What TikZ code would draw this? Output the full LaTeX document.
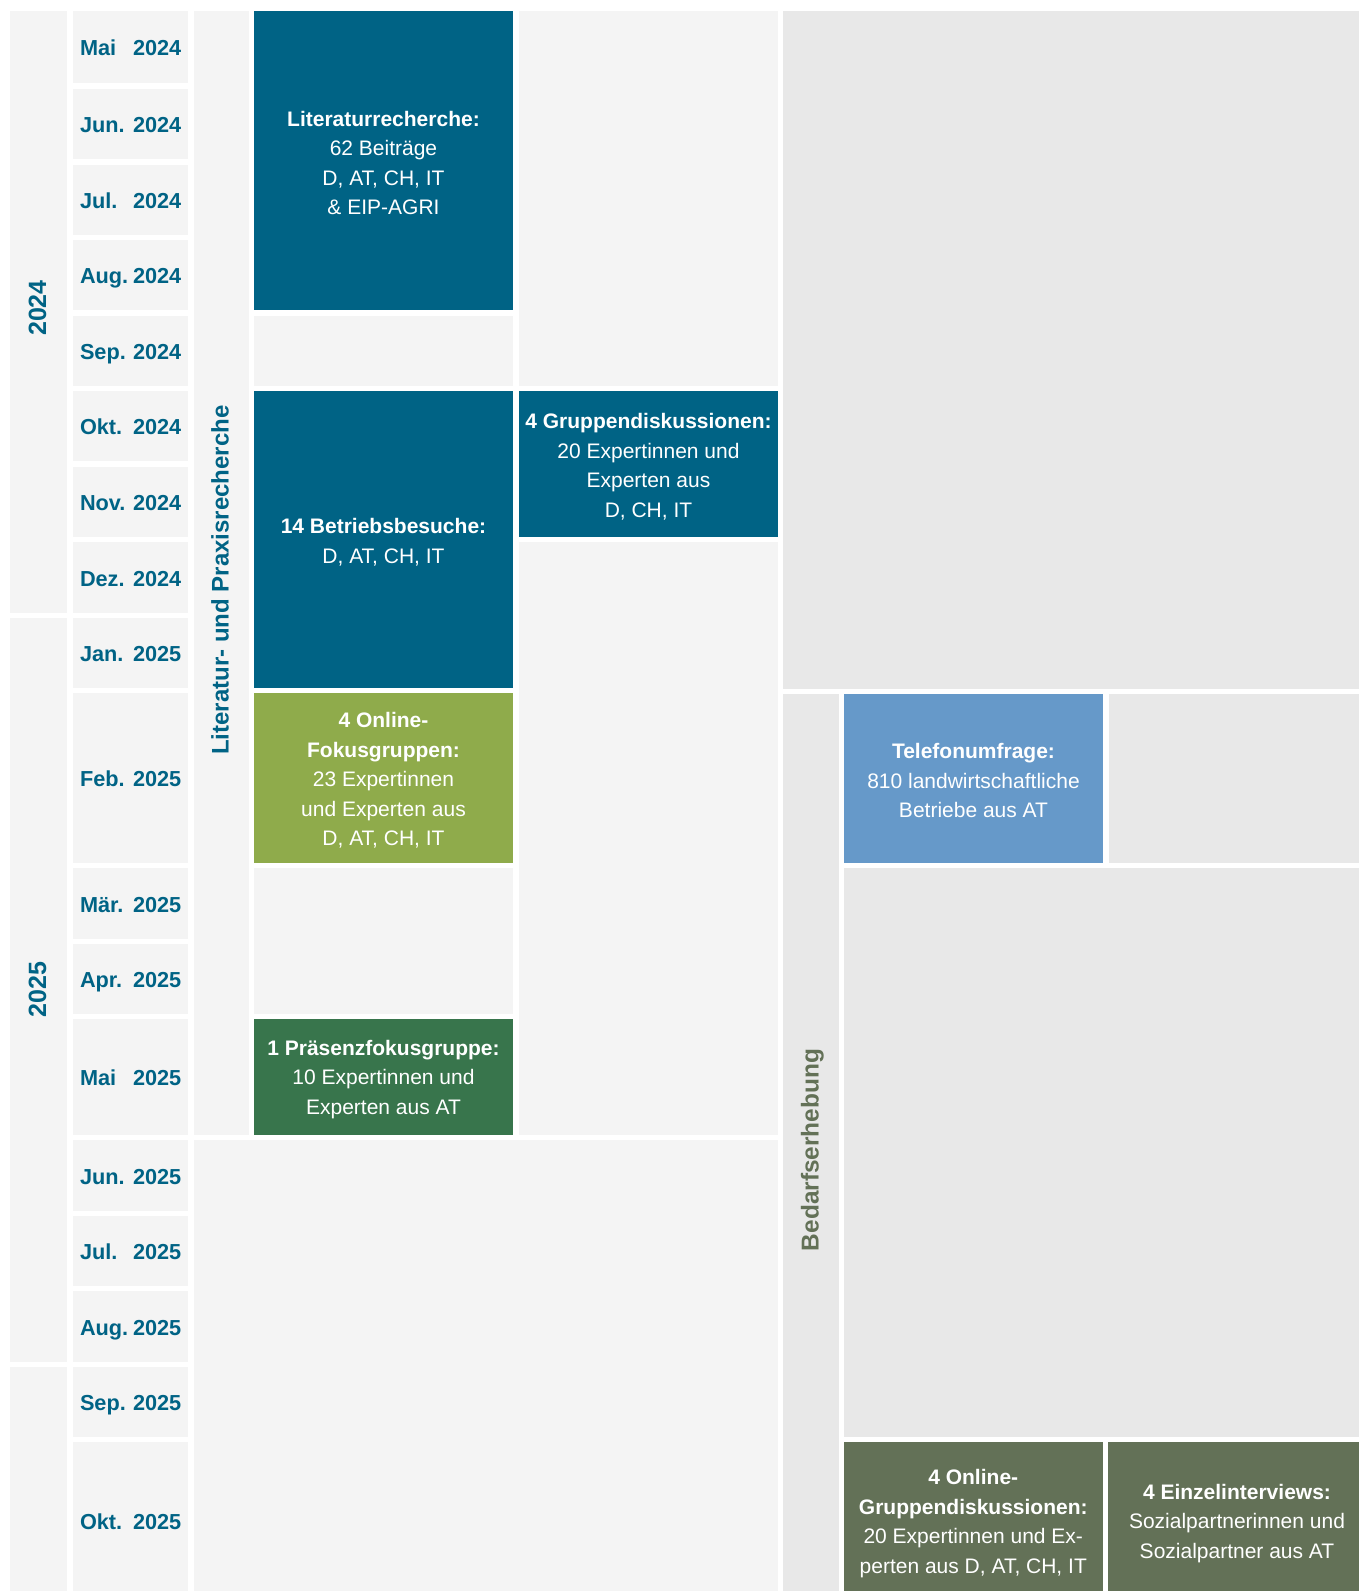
\documentclass[tikz,border=0pt]{standalone}
\usepackage{fontspec}
\setmainfont{Liberation Sans}
\definecolor{lightc}{HTML}{F4F4F4}
\definecolor{greyc}{HTML}{E8E8E8}
\definecolor{dblue}{HTML}{006385}
\definecolor{tblue}{HTML}{6699C9}
\definecolor{lgreen}{HTML}{8FAB4B}
\definecolor{dgreen}{HTML}{38754C}
\definecolor{ggreen}{HTML}{637157}
\tikzset{
  cellbase/.style={anchor=north west, inner sep=0pt, outer sep=0pt},
  lcell/.style={cellbase, fill=lightc},
  gcell/.style={cellbase, fill=greyc},
  bluebox/.style={cellbase, fill=dblue},
  telbox/.style={cellbase, fill=tblue},
  lgbox/.style={cellbase, fill=lgreen},
  dgbox/.style={cellbase, fill=dgreen},
  ggbox/.style={cellbase, fill=ggreen},
  boxtext/.style={inner sep=0pt, align=center, text=white,
    font=\fontsize{21}{29.5}\selectfont},
  mtext/.style={anchor=west, inner sep=0pt, outer sep=0pt, text=dblue,
    font=\fontsize{21.7}{25}\selectfont\bfseries, text height=15.5pt, text depth=0pt},
  yeartext/.style={rotate=90, inner sep=0pt, text=dblue,
    font=\fontsize{25}{28}\selectfont\bfseries, text height=17.9pt, text depth=0pt},
  littext/.style={rotate=90, inner sep=0pt, text=dblue,
    font=\fontsize{24}{28}\selectfont\bfseries, text height=17.2pt, text depth=5pt},
  bedtext/.style={rotate=90, inner sep=0pt, text=ggreen,
    font=\fontsize{24.4}{28}\selectfont\bfseries, text height=17.5pt, text depth=5.1pt},
}
\newcommand{\cell}[6]{\node[#6, minimum width={#4-#2}, minimum height={#5-#3}] (#1) at (#2,#3) {}}
\newcommand{\celltext}[2]{\node[boxtext] (#1t) at ([yshift=-2.5pt]#1.center) {#2}}
\newcommand{\mrow}[5]{%
  \cell{m#1}{73}{#2}{188}{#3}{lcell};
  \node[mtext] (m#1n) at ([xshift=7pt,yshift=-1pt]m#1.west) {#4};
  \node[mtext] (m#1y) at ([xshift=60pt,yshift=-1pt]m#1.west) {#5};
}
\begin{document}
\begin{tikzpicture}[x=1pt, y=-1pt]
\useasboundingbox (0,0) rectangle (1358,1591);
\fill[white] (0,0) rectangle (1358,1591);

% year column
\cell{y24}{9.5}{10.5}{67}{612.5}{lcell};
\cell{y25}{9.5}{617.5}{67}{1361.5}{lcell};
\cell{y26}{9.5}{1366.5}{67}{1600}{lcell};
\node[yeartext] (y24t) at (37.2,308) {2024};
\node[yeartext] (y25t) at (37.2,989.5) {2025};

% month column
\mrow{1}{10.5}{83}{Mai}{2024}
\mrow{2}{89}{159}{Jun.}{2024}
\mrow{3}{164.5}{234.5}{Jul.}{2024}
\mrow{4}{240}{310}{Aug.}{2024}
\mrow{5}{315.5}{386}{Sep.}{2024}
\mrow{6}{391}{461}{Okt.}{2024}
\mrow{7}{466.5}{537}{Nov.}{2024}
\mrow{8}{542}{612.5}{Dez.}{2024}
\mrow{9}{617.5}{688}{Jan.}{2025}
\mrow{10}{693}{862.5}{Feb.}{2025}
\mrow{11}{868}{938.5}{Mär.}{2025}
\mrow{12}{943.5}{1014}{Apr.}{2025}
\mrow{13}{1019}{1134.5}{Mai}{2025}
\mrow{14}{1140}{1210.5}{Jun.}{2025}
\mrow{15}{1215.5}{1286}{Jul.}{2025}
\mrow{16}{1291}{1361.5}{Aug.}{2025}
\mrow{17}{1366.5}{1437}{Sep.}{2025}
\mrow{18}{1442}{1600}{Okt.}{2025}

% literature / practice column
\cell{litcol}{193.5}{10.5}{249}{1134.5}{lcell};
\node[littext] (litlab) at (222.5,580) {Literatur- und Praxisrecherche};
\cell{lower}{193.5}{1140}{778}{1600}{lcell};

% column 3
\cell{lit}{254}{10.5}{513}{310}{bluebox};
\celltext{lit}{\textbf{Literaturrecherche:}\\62 Beiträge\\D, AT, CH, IT\\\& EIP-AGRI};
\cell{c3a}{254}{315.5}{513}{386}{lcell};
\cell{betr}{254}{391}{513}{688}{bluebox};
\celltext{betr}{\textbf{14 Betriebsbesuche:}\\D, AT, CH, IT};
\cell{onl}{254}{693}{513}{862.5}{lgbox};
\celltext{onl}{\textbf{4 Online-}\\\textbf{Fokusgruppen:}\\23 Expertinnen\\und Experten aus\\D, AT, CH, IT};
\cell{c3b}{254}{868}{513}{1014}{lcell};
\cell{praes}{254}{1019}{513}{1134.5}{dgbox};
\celltext{praes}{\textbf{1 Präsenzfokusgruppe:}\\10 Expertinnen und\\Experten aus AT};

% column 4
\cell{c4a}{519}{10.5}{778}{386}{lcell};
\cell{grp}{519}{391}{778}{537}{bluebox};
\celltext{grp}{\textbf{4 Gruppendiskussionen:}\\20 Expertinnen und\\Experten aus\\D, CH, IT};
\cell{c4b}{519}{542}{778}{1134.5}{lcell};

% right part
\cell{topgrey}{783}{10.5}{1366}{688.5}{gcell};
\cell{bedcol}{783}{694}{839}{1600}{gcell};
\node[bedtext] (bedlab) at (812.5,1150) {Bedarfserhebung};
\cell{tel}{844}{694}{1103}{862.5}{telbox};
\celltext{tel}{\textbf{Telefonumfrage:}\\810 landwirtschaftliche\\Betriebe aus AT};
\cell{gr1}{1108.5}{694}{1366}{862.5}{gcell};
\cell{gr2}{844}{868}{1366}{1437}{gcell};
\cell{ogd}{843.5}{1442}{1103}{1600}{ggbox};
\celltext{ogd}{\textbf{4 Online-}\\\textbf{Gruppendiskussionen:}\\20 Expertinnen und Ex-\\perten aus D, AT, CH, IT};
\cell{einz}{1108}{1442}{1366}{1600}{ggbox};
\celltext{einz}{\textbf{4 Einzelinterviews:}\\Sozialpartnerinnen und\\Sozialpartner aus AT};
\end{tikzpicture}
\end{document}
